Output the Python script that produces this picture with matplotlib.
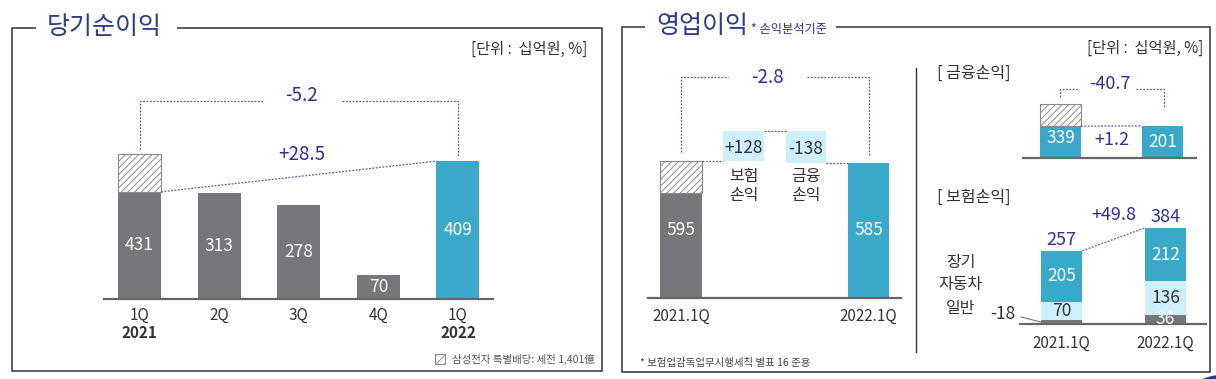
import numpy as np
import matplotlib.pyplot as plt
from matplotlib.patches import Rectangle, Ellipse

plt.rcParams['font.family'] = ['Noto Sans CJK KR', 'DejaVu Sans']
plt.rcParams['hatch.linewidth'] = 0.7

# ---- data -------------------------------------------------------------
# 당기순이익
np_labels = ['1Q', '2Q', '3Q', '4Q', '1Q']
np_years = ['2021', '', '', '', '2022']
np_values = [431, 313, 278, 70, 409]
np_dividend = 113          # 1Q21 삼성전자 특별배당 (빗금)
np_yoy = '-5.2'
np_yoy_ex = '+28.5'

# 영업이익
op_labels = ['2021.1Q', '2022.1Q']
op_values = [595, 585]
op_dividend = 140
op_steps = [128, -138]
op_step_names = ['보험\n손익', '금융\n손익']
op_yoy = '-2.8'

# 금융손익
fin_labels = ['2021.1Q', '2022.1Q']
fin_values = [339, 201]
fin_dividend = 140
fin_yoy = '-40.7'
fin_yoy_ex = '+1.2'

# 보험손익
ins_segments = ['일반', '자동차', '장기']
ins_2021 = [-18, 70, 205]
ins_2022 = [36, 136, 212]
ins_yoy = '+49.8'

# ---- style ------------------------------------------------------------
GRAY = '#75777a'
TEAL = '#3aa8c8'
LIGHT = '#cdf0fb'
NAVY = '#2e3192'
TITLE = '#2b3a8c'
DOT = '#5558b0'
DARK = '#333333'
HATCH_EC = '#8a8a8a'
DOTSTYLE = (0, (1.5, 1.2))

W, H = 1216, 379
fig = plt.figure(figsize=(W / 100, H / 100), dpi=100)


def px_axes(x0, y0, x1, y1):
    ax = fig.add_axes([x0 / W, 1 - y1 / H, (x1 - x0) / W, (y1 - y0) / H])
    ax.set_axis_off()
    return ax


def txt(ax, x, y, s, dy=0, dx=0, ha='center', va='center', **kw):
    ax.annotate(s, (x, y), xytext=(dx * 0.72, dy * 0.72), textcoords='offset points',
                ha=ha, va=va, annotation_clip=False, **kw)


def dline(ax, xs, ys, **kw):
    ax.plot(xs, ys, color=DOT, lw=0.9, ls=DOTSTYLE, clip_on=False, **kw)


# ---- frames -----------------------------------------------------------
bg = px_axes(0, 0, W, H)
bg.set_xlim(0, W)
bg.set_ylim(H, 0)
bg.add_patch(Rectangle((12, 28), 590, 343, fill=False, ec=DARK, lw=1.1))
bg.add_patch(Rectangle((622, 27), 588, 345, fill=False, ec=DARK, lw=1.1))
bg.add_patch(Rectangle((36, 8), 141, 40, fc='white', ec='none'))
bg.add_patch(Rectangle((645, 8), 191, 40, fc='white', ec='none'))
bg.text(47, 27, '당기순이익', color=TITLE, fontsize=18, va='center', ha='left')
bg.text(656, 26, '영업이익', color=TITLE, fontsize=18, va='center', ha='left')
bg.text(751, 30, '* 손익분석기준', color=NAVY, fontsize=8.8, va='center', ha='left')
bg.text(587, 49, '[단위 :  십억원, %]', color=DARK, fontsize=11, va='center', ha='right')
bg.text(1203, 48, '[단위 :  십억원, %]', color=DARK, fontsize=11, va='center', ha='right')
bg.plot([916, 916], [68, 352], color=DARK, lw=1)
bg.add_patch(Rectangle((435, 354), 10, 10, fc='white', ec=HATCH_EC, hatch='////', lw=0.7))
bg.text(452, 359, '삼성전자 특별배당: 세전 1,401億', color='#555555', fontsize=7.5,
        va='center', ha='left')
bg.text(640, 363, '* 보험업감독업무시행세칙 별표 16 준용', color='#444444', fontsize=7.5,
        va='center', ha='left')
bg.add_patch(Ellipse((1222, 392), 60, 34, fc=TITLE, ec='none'))

# ---- 당기순이익 --------------------------------------------------------
ax1 = px_axes(104, 60, 493, 299)
ax1.set_xlim(-0.446, 4.44)
ax1.set_ylim(0, 709)
x1 = np.arange(len(np_values))
solid = [np_values[0] - np_dividend] + np_values[1:]
ax1.bar(x1, solid, width=0.54, color=[GRAY] * 4 + [TEAL])
ax1.bar(0, np_dividend, bottom=solid[0], width=0.54, facecolor='white',
        edgecolor=HATCH_EC, hatch='/////', lw=0.8)
ax1.plot([-0.446, 4.44], [0, 0], color='#666666', lw=1.6, clip_on=False)
for i, v in enumerate(np_values):
    txt(ax1, i, solid[i] / 2, str(v), color='white', fontsize=12.5)
    txt(ax1, i, 0, np_labels[i], dy=-16, color=DARK, fontsize=11)
    if np_years[i]:
        txt(ax1, i, 0, np_years[i], dy=-34, color=DARK, fontsize=11, fontweight='bold')
by = max(np_values) * 1.36
dline(ax1, [0, 0, 1.55], [np_values[0] + 15, by, by])
dline(ax1, [2.54, 4, 4], [by, by, np_values[4] + 15])
txt(ax1, 2.04, by, np_yoy, dy=6, color=NAVY, fontsize=13.5)
dline(ax1, [0.27, 3.73], [solid[0], np_values[4]])
txt(ax1, 2.04, np_values[4], np_yoy_ex, dy=7, color=NAVY, fontsize=13.5)

# ---- 영업이익 (waterfall) ---------------------------------------------
ax2 = px_axes(648, 60, 901, 298)
ax2.set_xlim(-0.528, 3.52)
ax2.set_ylim(0, 1030)
op_base = op_values[0] - op_dividend
ax2.bar(0, op_base, width=0.67, color=GRAY)
ax2.bar(0, op_dividend, bottom=op_base, width=0.67, facecolor='white',
        edgecolor=HATCH_EC, hatch='/////', lw=0.8)
ax2.bar(3, op_values[1], width=0.67, color=TEAL)
level = op_values[0]
tops = []
for k, step in enumerate(op_steps):
    lo, hi = sorted([level, level + step])
    ax2.bar(k + 1, hi - lo, bottom=lo, width=0.65, color=LIGHT)
    txt(ax2, k + 1, (lo + hi) / 2, f'{step:+d}', dy=-2, color=DARK, fontsize=12.5)
    txt(ax2, k + 1, op_values[0], op_step_names[k], dy=-7, va='top', color=DARK,
        fontsize=11.5, linespacing=1.2)
    tops.append(hi)
    level += step
dline(ax2, [0.335, 1 - 0.325], [op_values[0], op_values[0]])
dline(ax2, [1 + 0.325, 2 - 0.325], [tops[0], tops[0]])
dline(ax2, [2 + 0.325, 3 - 0.335], [op_values[1], op_values[1]])
ax2.plot([-0.528, 3.52], [0, 0], color='#666666', lw=1.6, clip_on=False)
for i, x in enumerate([0, 3]):
    txt(ax2, x, op_values[1] / 2, str(op_values[i]), color='white', fontsize=12.5)
    txt(ax2, x, 0, op_labels[i], dy=-18, color=DARK, fontsize=11)
oy = max(tops) * 1.32
dline(ax2, [0, 0, 0.75], [op_values[0] + 35, oy, oy])
dline(ax2, [2.02, 3, 3], [oy, oy, op_values[1] + 35])
txt(ax2, 1.38, oy, op_yoy, color=NAVY, fontsize=13.5)

# ---- 금융손익 ----------------------------------------------------------
bg.text(937, 73, '[ 금융손익]', color=DARK, fontsize=11.5, va='center', ha='left')
ax3 = px_axes(1023, 70, 1196, 158)
ax3.set_xlim(-0.368, 1.33)
ax3.set_ylim(0, 550)
fin_base = fin_values[0] - fin_dividend
ax3.bar([0, 1], [fin_base, fin_values[1]], width=0.40, color=TEAL)
ax3.bar(0, fin_dividend, bottom=fin_base, width=0.40, facecolor='white',
        edgecolor=HATCH_EC, hatch='/////', lw=0.8)
ax3.plot([-0.368, 1.33], [0, 0], color='#666666', lw=1.6, clip_on=False)
txt(ax3, 0, fin_base / 2, str(fin_values[0]), dy=4, color='white', fontsize=12.5)
txt(ax3, 1, fin_values[1] / 2, str(fin_values[1]), color='white', fontsize=12.5)
dline(ax3, [0.2, 0.8], [fin_base, fin_values[1]])
txt(ax3, 0.5, fin_base, fin_yoy_ex, dy=-14, color=NAVY, fontsize=13)
fy = fin_values[0] * 1.27
dline(ax3, [0, 0, 0.18], [fin_values[0] + 40, fy, fy])
dline(ax3, [0.74, 1.02, 1.02], [fy, fy, fin_values[1] + 110])
txt(ax3, 0.485, fy, fin_yoy, dy=5, color=NAVY, fontsize=13)

# ---- 보험손익 ----------------------------------------------------------
bg.text(937, 197, '[ 보험손익]', color=DARK, fontsize=11.5, va='center', ha='left')
ax4 = px_axes(1020, 200, 1206, 324)
ax4.set_xlim(-0.40, 1.39)
ax4.set_ylim(0, 496)
seg_colors = [GRAY, LIGHT, TEAL]
seg_text = ['white', DARK, 'white']
totals = []
for x, vals in enumerate([ins_2021, ins_2022]):
    bottom = 0
    for j, v in enumerate(vals):
        h = abs(v)
        ax4.bar(x, h, bottom=bottom, width=0.39, color=seg_colors[j])
        if v > 0:
            txt(ax4, x, bottom + h / 2, str(v), color=seg_text[j], fontsize=12.5)
        bottom += h
    totals.append(bottom)
    txt(ax4, x, bottom, str(sum(vals)), dy=2, va='bottom', color=NAVY, fontsize=13)
    txt(ax4, x, 0, fin_labels[x], dy=-19, color=DARK, fontsize=11)
ax4.plot([-0.40, 1.39], [0, 0], color='#666666', lw=1.6, clip_on=False)
dline(ax4, [0.2, 0.8], [totals[0], totals[1]])
txt(ax4, 0.5, totals[1], ins_yoy, dy=13, color=NAVY, fontsize=13)
txt(ax4, -0.57, 0, str(ins_2021[0]), dy=10, color=DARK, fontsize=12.5)
ax4.plot([-0.39, -0.2], [28, 8], color='#777777', lw=0.8, clip_on=False)
for name, ypx in zip(ins_segments, [309, 284, 262]):
    bg.text(961, ypx, name, color=DARK, fontsize=11.5, va='center', ha='center')

fig.savefig('out.png', dpi=100)
